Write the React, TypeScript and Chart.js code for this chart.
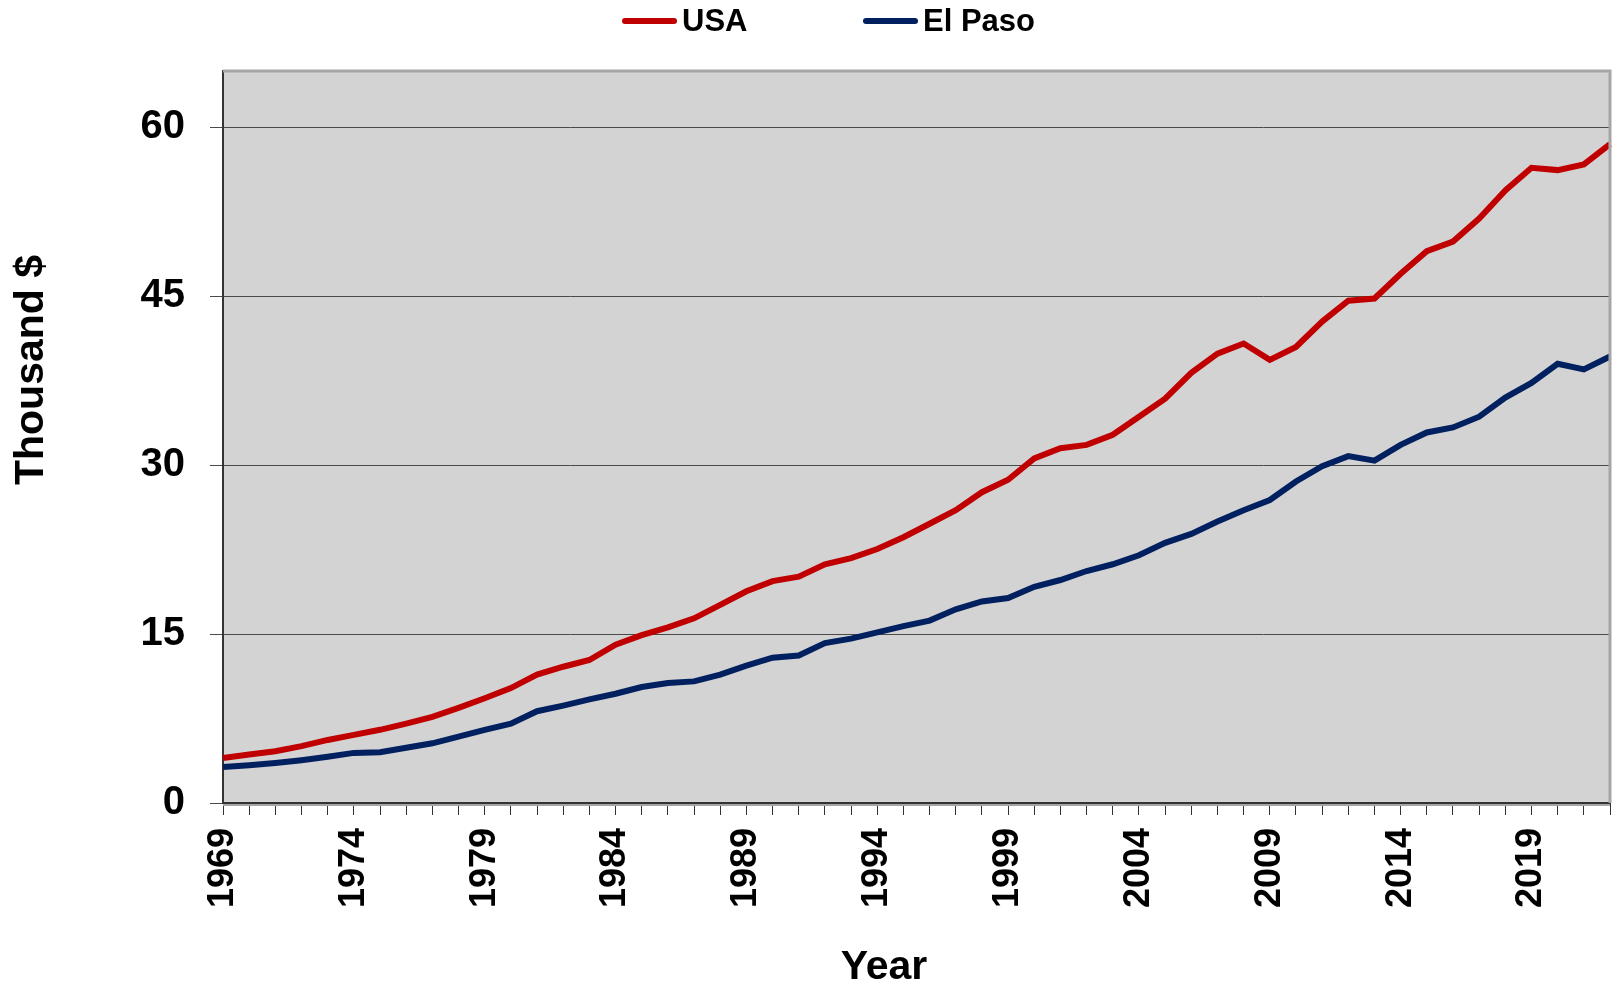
import React, { useEffect, useRef } from "react";
import { Chart, registerables } from "chart.js";

Chart.register(...registerables);

const years: string[] = [
  "1969", "1970", "1971", "1972", "1973", "1974", "1975", "1976", "1977", "1978",
  "1979", "1980", "1981", "1982", "1983", "1984", "1985", "1986", "1987", "1988",
  "1989", "1990", "1991", "1992", "1993", "1994", "1995", "1996", "1997", "1998",
  "1999", "2000", "2001", "2002", "2003", "2004", "2005", "2006", "2007", "2008",
  "2009", "2010", "2011", "2012", "2013", "2014", "2015", "2016", "2017", "2018",
  "2019", "2020", "2021", "2022",
];

const usaValues: number[] = [
  4.0, 4.3, 4.6, 5.05, 5.6, 6.05, 6.5, 7.05, 7.65, 8.45,
  9.3, 10.2, 11.4, 12.1, 12.7, 14.05, 14.9, 15.6, 16.4, 17.6,
  18.8, 19.7, 20.1, 21.2, 21.75, 22.55, 23.6, 24.8, 26.0, 27.6,
  28.7, 30.6, 31.5, 31.8, 32.7, 34.3, 35.9, 38.2, 39.9, 40.8,
  39.35, 40.5, 42.75, 44.6, 44.8, 47.0, 49.0, 49.85, 51.9, 54.4,
  56.4, 56.2, 56.7, 58.5,
];

const elPasoValues: number[] = [
  3.2, 3.35, 3.55, 3.8, 4.1, 4.45, 4.5, 4.9, 5.3, 5.9,
  6.5, 7.05, 8.15, 8.65, 9.2, 9.7, 10.3, 10.65, 10.8, 11.4,
  12.2, 12.9, 13.1, 14.2, 14.6, 15.15, 15.7, 16.2, 17.2, 17.9,
  18.2, 19.2, 19.8, 20.6, 21.2, 22.0, 23.1, 23.9, 25.0, 26.0,
  26.9, 28.55, 29.9, 30.8, 30.4, 31.8, 32.9, 33.35, 34.3, 36.0,
  37.3, 39.0, 38.5, 39.65,
];

const xTickLabels: string[] = ["1969", "1974", "1979", "1984", "1989", "1994", "1999", "2004", "2009", "2014", "2019"];
const yTicks: number[] = [0, 15, 30, 45, 60];

const seriesNames = ["USA", "El Paso"];
const seriesColors = ["#C00000", "#002060"];

const FONT = "'Liberation Sans', Arial, sans-serif";

const decorPlugin = {
  id: "decor",
  beforeDraw(chart: any) {
    const { ctx, chartArea } = chart;
    ctx.save();
    ctx.fillStyle = "#D3D3D3";
    ctx.fillRect(chartArea.left, chartArea.top, chartArea.right - chartArea.left, chartArea.bottom - chartArea.top);
    ctx.restore();
  },
  afterDraw(chart: any) {
    const { ctx, chartArea } = chart;
    ctx.save();
    // top and right frame
    ctx.strokeStyle = "#A6A6A6";
    ctx.lineWidth = 3;
    ctx.beginPath();
    ctx.moveTo(chartArea.left, chartArea.top);
    ctx.lineTo(chartArea.right, chartArea.top);
    ctx.lineTo(chartArea.right, chartArea.bottom);
    ctx.stroke();
    ctx.lineWidth = 2;
    ctx.beginPath();
    ctx.moveTo(chartArea.left, chartArea.bottom + 2);
    ctx.lineTo(chartArea.right, chartArea.bottom + 2);
    ctx.stroke();

    // axis titles
    ctx.fillStyle = "#000";
    ctx.font = `bold 41px ${FONT}`;
    ctx.textAlign = "center";
    ctx.textBaseline = "middle";
    ctx.save();
    ctx.translate(32, 370);
    ctx.rotate(-Math.PI / 2);
    ctx.fillText("Thousand $", 0, 0);
    ctx.restore();
    ctx.font = `bold 41px ${FONT}`;
    ctx.fillText("Year", 884, 968);

    // legend
    const items = [
      { x0: 622, x1: 677, tx: 682 },
      { x0: 863, x1: 918, tx: 923 },
    ];
    const ly = 21;
    ctx.lineCap = "round";
    ctx.lineWidth = 6;
    ctx.font = `bold 31px ${FONT}`;
    ctx.textAlign = "left";
    ctx.textBaseline = "middle";
    chart.data.datasets.forEach((ds: any, i: number) => {
      const it = items[i];
      ctx.strokeStyle = ds.borderColor;
      ctx.beginPath();
      ctx.moveTo(it.x0 + 3, ly);
      ctx.lineTo(it.x1 - 3, ly);
      ctx.stroke();
      ctx.fillStyle = "#000";
      ctx.fillText(ds.label, it.tx, ly + 1);
    });
    ctx.restore();
  },
};

export default function App() {
  const ref = useRef<HTMLCanvasElement | null>(null);

  useEffect(() => {
    document.body.style.margin = "0";
    const canvas = ref.current;
    if (!canvas) return;
    const chart = new Chart(canvas, {
      type: "line",
      data: {
        labels: years,
        datasets: [
          {
            label: seriesNames[0],
            data: usaValues,
            borderColor: seriesColors[0],
            backgroundColor: seriesColors[0],
            borderWidth: 6,
            pointRadius: 0,
            tension: 0,
            fill: false,
          },
          {
            label: seriesNames[1],
            data: elPasoValues,
            borderColor: seriesColors[1],
            backgroundColor: seriesColors[1],
            borderWidth: 6,
            pointRadius: 0,
            tension: 0,
            fill: false,
          },
        ],
      },
      options: {
        responsive: false,
        animation: false,
        layout: { padding: { top: 71, right: 4, left: 0, bottom: 0 } },
        plugins: {
          legend: { display: false },
          title: { display: false },
          tooltip: { enabled: false },
        },
        scales: {
          x: {
            type: "category",
            offset: false,
            afterFit: (scale: any) => {
              scale.height = 182;
              scale.paddingLeft = 0;
              scale.paddingRight = 0;
            },
            grid: {
              drawOnChartArea: false,
              drawTicks: true,
              tickLength: 12,
              color: "#333333",
              lineWidth: 1,
            },
            border: { display: true, color: "#333333", width: 2 },
            ticks: {
              autoSkip: false,
              maxRotation: 90,
              minRotation: 90,
              padding: 13,
              color: "#000",
              font: { family: FONT, size: 36, weight: "bold" },
              callback: function (this: any, value: any) {
                const lbl = years[value as number];
                return xTickLabels.includes(lbl) ? lbl : "";
              },
            },
          },
          y: {
            min: 0,
            max: 65,
            afterFit: (scale: any) => {
              scale.width = 223;
              scale.paddingTop = 0;
              scale.paddingBottom = 0;
            },
            afterBuildTicks: (scale: any) => {
              scale.ticks = yTicks.map((v) => ({ value: v }));
            },
            grid: {
              drawOnChartArea: true,
              drawTicks: true,
              tickLength: 13,
              color: "#4A4A4A",
              lineWidth: 1,
            },
            border: { display: true, color: "#333333", width: 2 },
            ticks: {
              padding: 25,
              color: "#000",
              font: { family: FONT, size: 40, weight: "bold" },
            },
          },
        },
      },
      plugins: [decorPlugin],
    });
    return () => chart.destroy();
  }, []);

  return (
    <div style={{ width: 1614, height: 985 }}>
      <canvas ref={ref} width={1614} height={985} style={{ display: "block" }} />
    </div>
  );
}
